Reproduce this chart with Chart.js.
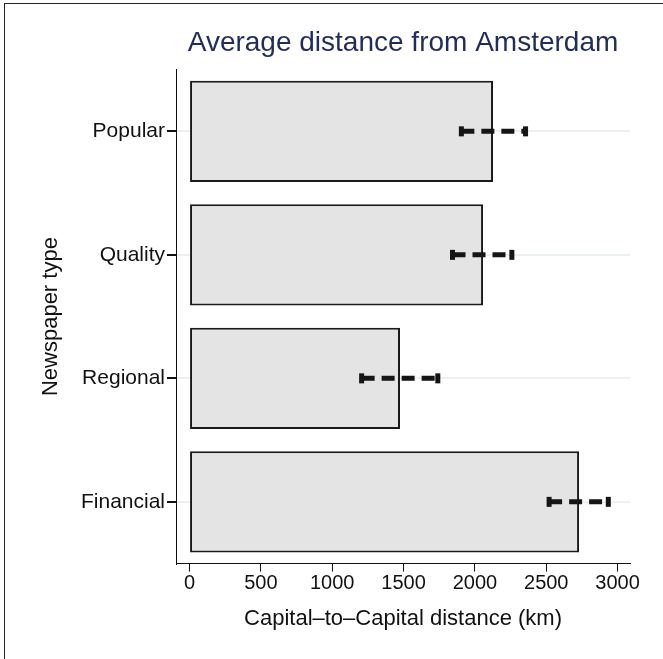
<!DOCTYPE html>
<html>
<head>
<meta charset="utf-8">
<script src="https://cdn.jsdelivr.net/npm/chart.js@4.4.1/dist/chart.umd.min.js"></script>
<style>
  body { margin: 0; overflow: hidden; background: #fff; }
  #frame { position: absolute; left: 4px; top: 3px; width: 700px; height: 700px; border: 1px solid #222; }
  #wrap { position: absolute; left: 0; top: 0; width: 663px; height: 659px; }
</style>
</head>
<body>
<div id="frame"></div>
<div id="wrap"><canvas id="myChart" width="663" height="659"></canvas></div>
<script>
const categories = ['Popular', 'Quality', 'Regional', 'Financial']
const meanDistance = [2127, 2057, 1475, 2730]
const ciLow = [1905, 1843, 1206, 2520]
const ciHigh = [2355, 2259, 1740, 2935]
const xTicks = [0, 500, 1000, 1500, 2000, 2500, 3000]

const fontFamily = '"Liberation Sans", Arial, Helvetica, sans-serif'

// dashed interval lines with small caps on each bar
const errorBars = {
    id: 'errorBars',
    afterDatasetsDraw(chart) {
        const ctx = chart.ctx
        const x = chart.scales.x
        const y = chart.scales.y
        ctx.save()
        ctx.strokeStyle = '#151515'
        ctx.fillStyle = '#151515'
        for (let i = 0; i < categories.length; i++) {
            const yp = y.getPixelForValue(i)
            const x1 = x.getPixelForValue(ciLow[i])
            const x2 = x.getPixelForValue(ciHigh[i])
            ctx.lineWidth = 5
            ctx.setLineDash([13, 7])
            ctx.beginPath()
            ctx.moveTo(x1, yp)
            ctx.lineTo(x2, yp)
            ctx.stroke()
            ctx.setLineDash([])
            ctx.fillRect(x1 - 2.5, yp - 5, 5, 10)
            ctx.fillRect(x2 - 2.5, yp - 5, 5, 10)
        }
        ctx.restore()
    }
}

const ctx = document.getElementById('myChart')
new Chart(ctx, {
    type: 'bar',
    data: {
        labels: categories,
        datasets: [{
            label: 'Average distance',
            data: meanDistance,
            backgroundColor: '#e4e4e4',
            borderColor: '#1a1a1a',
            borderWidth: 2,
            borderSkipped: false,
            barPercentage: 0.82,
            categoryPercentage: 1
        }]
    },
    options: {
        indexAxis: 'y',
        responsive: false,
        animation: false,
        layout: { padding: { left: 38, right: 33, top: 0, bottom: 27 } },
        plugins: {
            legend: { display: false },
            tooltip: { enabled: false },
            title: {
                display: true,
                text: 'Average distance from Amsterdam',
                color: '#1f2d58',
                fullSize: false,
                font: { family: fontFamily, size: 28, weight: 'normal' },
                padding: { top: 26, bottom: 10 }
            }
        },
        scales: {
            x: {
                min: -95,
                max: 3087,
                afterBuildTicks: (axis) => { axis.ticks = xTicks.map(v => ({ value: v })) },
                border: { color: '#111', width: 1 },
                grid: { drawOnChartArea: false, tickColor: '#111', tickLength: 8 },
                ticks: {
                    color: '#111', font: { family: fontFamily, size: 20 }, padding: 0, maxRotation: 0,
                    callback: (v) => String(v)
                },
                title: {
                    display: true,
                    text: 'Capital\u2013to\u2013Capital distance (km)',
                    color: '#111',
                    font: { family: fontFamily, size: 22 },
                    padding: { top: 10, bottom: 0 }
                }
            },
            y: {
                border: { color: '#111', width: 1 },
                grid: { offset: false, color: '#ebf1f1', lineWidth: 2, tickColor: '#111', tickLength: 9 },
                ticks: { color: '#111', font: { family: fontFamily, size: 21 }, padding: 2 },
                title: {
                    display: true,
                    text: 'Newspaper type',
                    color: '#111',
                    font: { family: fontFamily, size: 22 },
                    padding: { top: 0, bottom: 0 }
                },
                afterFit: (axis) => { axis.width = 138 }
            }
        }
    },
    plugins: [errorBars]
})
</script>
</body>
</html>
